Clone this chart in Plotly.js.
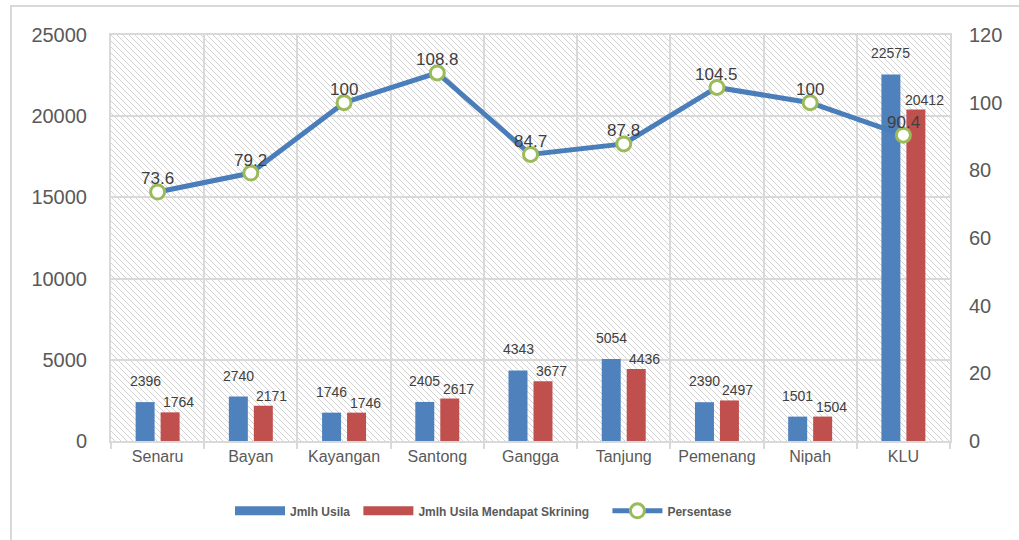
<!DOCTYPE html>
<html>
<head>
<meta charset="utf-8">
<script src="https://cdn.plot.ly/plotly-3.0.1.min.js"></script>
<style>
html,body{margin:0;padding:0;background:#fff;overflow:hidden;}
#chart{width:1019px;height:540px;position:relative;}
#frame{position:absolute;left:10px;top:5px;width:1100px;height:600px;border:2px solid #d9d9d9;box-sizing:border-box;pointer-events:none;}
</style>
</head>
<body>
<div id="chart"></div>
<div id="frame"></div>
<script>
const categories = ["Senaru","Bayan","Kayangan","Santong","Gangga","Tanjung","Pemenang","Nipah","KLU"];
const jmlhUsila = [2396, 2740, 1746, 2405, 4343, 5054, 2390, 1501, 22575];
const jmlhSkrining = [1764, 2171, 1746, 2617, 3677, 4436, 2497, 1504, 20412];
const persentase = [73.6, 79.2, 100, 108.8, 84.7, 87.8, 104.5, 100, 90.4];
const leftTicks = [0, 5000, 10000, 15000, 20000, 25000];
const rightTicks = [0, 20, 40, 60, 80, 100, 120];
const seriesNames = ["Jmlh Usila", "Jmlh Usila Mendapat Skrining", "Persentase"];

const W = 1019, H = 540;
const M = {l:111, r:69, t:35, b:99};
const pw = W - M.l - M.r, ph = H - M.t - M.b;

const hatch = '<svg xmlns="http://www.w3.org/2000/svg" width="'+pw+'" height="'+ph+'">' +
  '<defs><pattern id="p" patternUnits="userSpaceOnUse" width="6" height="6">' +
  '<path d="M-1,-1 L7,7 M-1,5 L1,7 M5,-1 L7,1" stroke="#d3d3d3" stroke-width="1"/>' +
  '</pattern></defs><rect width="'+pw+'" height="'+ph+'" fill="url(#p)"/></svg>';
const hatchURI = 'data:image/svg+xml;charset=utf-8,' + encodeURIComponent(hatch);

const font = "Liberation Sans, Arial, sans-serif";
const BLUE = '#4f81bd', RED = '#c0504d';
const NB = '\u00a0';
const LABEL_COLOR = '#404040';

// data labels as annotations anchored on the data through the axes
const annotations = [];
categories.forEach((c, i) => {
  annotations.push({
    x: c, y: jmlhUsila[i], xref: 'x', yref: 'y', text: String(jmlhUsila[i]),
    showarrow: false, xanchor: 'center', yanchor: 'bottom', xshift: -12.5, yshift: 11,
    font: {size: 14, color: LABEL_COLOR, family: font}
  });
  annotations.push({
    x: c, y: jmlhSkrining[i], xref: 'x', yref: 'y', text: String(jmlhSkrining[i]),
    showarrow: false, xanchor: 'center', yanchor: 'bottom', xshift: 21, yshift: 0,
    font: {size: 14, color: LABEL_COLOR, family: font}
  });
  annotations.push({
    x: c, y: persentase[i], xref: 'x', yref: 'y2', text: String(persentase[i]),
    showarrow: false, xanchor: 'center', yanchor: 'middle', xshift: 0, yshift: 13,
    font: {size: 17, color: LABEL_COLOR, family: font}
  });
});

const traces = [
  {
    type: 'bar', name: seriesNames[0], x: categories, y: jmlhUsila,
    marker: {color: BLUE}, showlegend: false, hoverinfo: 'x+y'
  },
  {
    type: 'bar', name: seriesNames[1], x: categories, y: jmlhSkrining,
    marker: {color: RED}, showlegend: false, hoverinfo: 'x+y'
  },
  // legend-only entries giving wide rectangular swatches like the reference
  {
    type: 'scatter', mode: 'lines', name: seriesNames[0] + NB, x: [null], y: [null],
    line: {color: BLUE, width: 9}, hoverinfo: 'skip'
  },
  {
    type: 'scatter', mode: 'lines', name: seriesNames[1] + NB.repeat(4), x: [null], y: [null],
    line: {color: RED, width: 9}, hoverinfo: 'skip'
  },
  {
    type: 'scatter', mode: 'lines+markers', name: seriesNames[2],
    x: categories, y: persentase, yaxis: 'y2',
    line: {color: '#4a7ebb', width: 5},
    marker: {symbol: 'circle', size: 14, color: '#ffffff', line: {color: '#9bbb59', width: 3}},
    cliponaxis: false
  }
];

const layout = {
  width: W, height: H,
  margin: M,
  paper_bgcolor: 'rgba(0,0,0,0)',
  plot_bgcolor: 'rgba(0,0,0,0)',
  font: {family: font, color: '#595959'},
  barmode: 'group', bargap: 0.464, bargroupgap: 0.24,
  showlegend: true,
  legend: {
    orientation: 'h', x: 0.444, xanchor: 'center', y: -0.172, yanchor: 'middle',
    font: {size: 12, color: '#595959', family: font, weight: 'bold'},
    itemwidth: 50, traceorder: 'normal', bgcolor: 'rgba(0,0,0,0)'
  },
  xaxis: {
    type: 'category', tickson: 'boundaries',
    showgrid: true, gridcolor: '#d9d9d9', gridwidth: 2,
    showline: true, linecolor: '#d9d9d9', linewidth: 2, mirror: true,
    ticks: 'outside', ticklen: 6, tickcolor: '#d9d9d9', tickwidth: 2,
    tickfont: {size: 16, color: '#595959'},
    range: [-0.5, 8.5], fixedrange: true
  },
  yaxis: {
    range: [0, 25000], tickvals: leftTicks, ticktext: leftTicks.map(String),
    showgrid: true, gridcolor: '#d9d9d9', gridwidth: 2,
    showline: true, linecolor: '#d9d9d9', linewidth: 2, mirror: true,
    zeroline: false,
    tickfont: {size: 20, color: '#595959'},
    ticklabelstandoff: 18, fixedrange: true
  },
  yaxis2: {
    overlaying: 'y', side: 'right', range: [0, 120],
    tickvals: rightTicks, ticktext: rightTicks.map(String),
    showgrid: false, zeroline: false, showline: false,
    tickfont: {size: 20, color: '#595959'},
    ticklabelstandoff: 18, fixedrange: true
  },
  annotations: annotations,
  images: [{
    source: hatchURI, xref: 'paper', yref: 'paper', x: 0, y: 1,
    sizex: 1, sizey: 1, xanchor: 'left', yanchor: 'top',
    sizing: 'stretch', layer: 'below'
  }]
};

Plotly.newPlot('chart', traces, layout, {displayModeBar: false, staticPlot: true});
</script>
</body>
</html>
